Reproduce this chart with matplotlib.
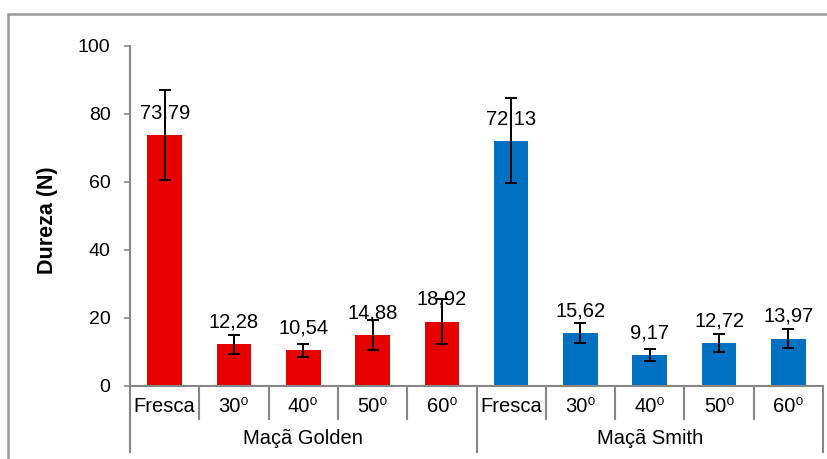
import numpy as np
import matplotlib
matplotlib.use('Agg')
from matplotlib import pyplot as plt
from matplotlib.patches import Rectangle
from matplotlib.transforms import blended_transform_factory

plt.rcParams['font.family'] = ['Liberation Sans', 'DejaVu Sans']

# data
groups = ['Maçã Golden', 'Maçã Smith']
treatments = ['Fresca', '30⁰', '40⁰', '50⁰', '60⁰']
golden = [73.79, 12.28, 10.54, 14.88, 18.92]
golden_err = [13.3, 2.8, 1.9, 4.4, 6.6]
smith = [72.13, 15.62, 9.17, 12.72, 13.97]
smith_err = [12.5, 2.85, 1.85, 2.7, 2.8]

W, H = 827, 459
fig = plt.figure(figsize=(W / 100, H / 100), dpi=100)
ax = fig.add_axes([130 / W, (H - 386) / H, (823 - 130) / W, (386 - 46) / H])

values = golden + smith
errs = golden_err + smith_err
colors = ['#E60000'] * len(golden) + ['#0070C0'] * len(smith)
x = np.arange(len(values))

ax.bar(x, values, width=0.5, color=colors, zorder=2)
ax.errorbar(x, values, yerr=errs, fmt='none', ecolor='black', elinewidth=1.4,
            capsize=4.3, capthick=1.4, zorder=3)

for xi, v in zip(x, values):
    ax.annotate(f'{v:.2f}'.replace('.', ','), (xi, v), xytext=(0, 16),
                textcoords='offset points', ha='center', va='center',
                fontsize=14.5, zorder=4)

ax.set_xlim(-0.5, len(values) - 0.5)
ax.set_ylim(0, 100)
ax.set_yticks([0, 20, 40, 60, 80, 100])
ax.tick_params(axis='y', direction='out', length=4, width=1.2, color='#868686',
               labelsize=14, pad=10)
ax.set_xticks([])
for s in ['top', 'right']:
    ax.spines[s].set_visible(False)
for s in ['left', 'bottom']:
    ax.spines[s].set_color('#868686')
    ax.spines[s].set_linewidth(1.5)

# multi-level category axis
tr = blended_transform_factory(ax.transData, fig.transFigure)
def fy(py):
    return 1 - py / H

n = len(treatments)
for k in range(len(values) + 1):
    xs = k - 0.5
    bottom = 452 if k % n == 0 else 419
    ax.plot([xs, xs], [fy(386), fy(bottom)], transform=tr, color='#868686',
            lw=1.5, clip_on=False)
for i, lab in enumerate(treatments * len(groups)):
    ax.text(i, fy(406), lab, transform=tr, ha='center', va='center', fontsize=14.5)
for g, name in enumerate(groups):
    ax.text(g * n + (n - 1) / 2, fy(438), name, transform=tr, ha='center',
            va='center', fontsize=14.5)

fig.text(47 / W, fy(220), 'Dureza (N)', rotation=90, ha='center', va='center',
         fontsize=15.5, fontweight='bold')

# outer chart border
fig.patches.append(Rectangle((8 / W, -0.1), 1.2, fy(14) + 0.1, transform=fig.transFigure,
                             fill=False, edgecolor='#999999', lw=1.8, figure=fig))

fig.savefig('out.png', dpi=100)
